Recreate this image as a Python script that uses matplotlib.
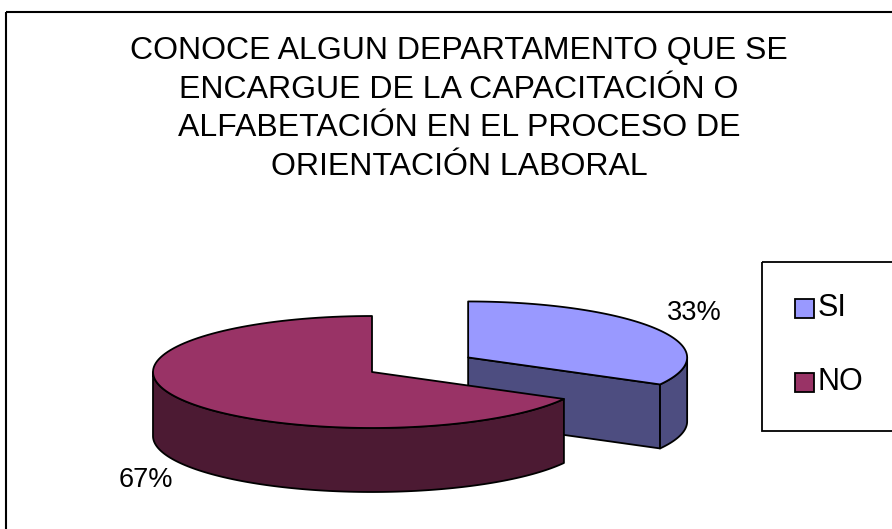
import numpy as np
import matplotlib
matplotlib.use('Agg')
import matplotlib.pyplot as plt
from matplotlib.patches import Polygon, Rectangle

plt.rcParams['font.family'] = ['Liberation Sans', 'DejaVu Sans']

# ***** data *****
categories = ['SI', 'NO']
values = [33, 67]
explode = [0.51, 0.0]
title = ('CONOCE ALGUN DEPARTAMENTO QUE SE\nENCARGUE DE LA CAPACITACIÓN O\n'
         'ALFABETACIÓN EN EL PROCESO DE\nORIENTACIÓN LABORAL')

top_colors = ['#9999FF', '#993366']
side_colors = ['#4D4D80', '#4C1A33']

# pie geometry in pixels
cx, cy = 372, 372
rx, ry = 219, 56
depth = 64

W, H = 892, 529
fig = plt.figure(figsize=(W / 100, H / 100), dpi=100)
ax = fig.add_axes([0, 0, 1, 1])
ax.set_xlim(0, W)
ax.set_ylim(H, 0)
ax.axis('off')

# outer chart border (runs off right / bottom)
ax.add_patch(Rectangle((6, 12), 1000, 1000, fill=False, ec='black', lw=1.5))

ax.text(459, 109, title, ha='center', va='center', fontsize=23,
        linespacing=1.38)


def arc(x0, y0, t0, t1, dy=0, n=120):
    t = np.radians(np.linspace(t0, t1, n))
    return np.column_stack([x0 + rx * np.cos(t), y0 - ry * np.sin(t) + dy])


def draw_slice(x0, y0, t0, t1, top, side):
    ek = dict(ec='black', lw=1.3, joinstyle='round')
    # cut faces
    for t, vis in ((t0, np.cos(np.radians(t0)) > 1e-6),
                   (t1, np.cos(np.radians(t1)) < -1e-6)):
        if vis:
            p = arc(x0, y0, t, t, n=1)[0]
            pts = [(x0, y0), p, (p[0], p[1] + depth), (x0, y0 + depth)]
            ax.add_patch(Polygon(pts, closed=True, fc=side, **ek))
    # outer wall, front part only
    for k in range(-1, 2):
        a = max(t0, 180 + 360 * k)
        b = min(t1, 360 + 360 * k)
        if a < b:
            upper = arc(x0, y0, a, b)
            lower = arc(x0, y0, b, a, dy=depth)
            ax.add_patch(Polygon(np.vstack([upper, lower]), closed=True,
                                 fc=side, **ek))
    pts = np.vstack([[x0, y0], arc(x0, y0, t0, t1)])
    ax.add_patch(Polygon(pts, closed=True, fc=top, **ek))


# slices go clockwise from 12 o'clock
fracs = np.array(values) / sum(values)
start = 90.0
for i in range(len(values)):
    span = fracs[i] * 360
    t1 = start
    t0 = start - span
    mid = np.radians((t0 + t1) / 2)
    x0 = cx + explode[i] * rx * np.cos(mid)
    y0 = cy - explode[i] * ry * np.sin(mid)
    draw_slice(x0, y0, t0, t1, top_colors[i], side_colors[i])
    lx = x0 + 1.2 * rx * np.cos(mid)
    ly = y0 - 1.55 * ry * np.sin(mid) + (depth if np.sin(mid) < 0 else 0)
    ax.text(lx, ly, '%d%%' % round(fracs[i] * 100), ha='center',
            va='center', fontsize=19.5)
    start = t0

# legend
ax.add_patch(Rectangle((762, 262), 300, 169, fill=False, ec='black', lw=1.3))
for i, name in enumerate(categories):
    yy = 308 + 74 * i
    ax.add_patch(Rectangle((795, yy - 9.5), 19, 19, fc=top_colors[i],
                           ec='black', lw=1.3))
    ax.text(818, yy, name, ha='left', va='center', fontsize=22)

fig.savefig('out.png', dpi=100)
